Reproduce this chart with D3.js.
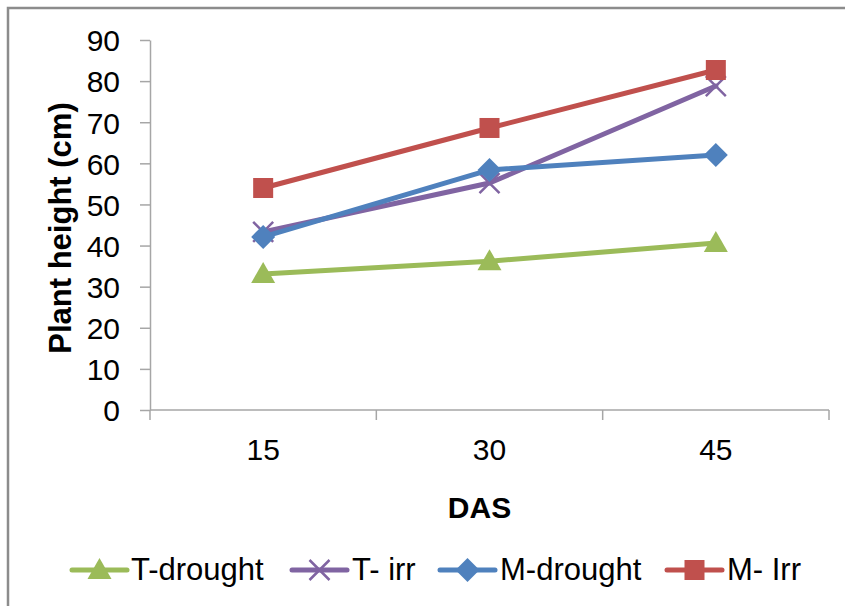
<!DOCTYPE html>
<html>
<head>
<meta charset="utf-8">
<script src="https://cdn.jsdelivr.net/npm/d3@7"></script>
<style>
  html, body { margin: 0; padding: 0; background: #fff; }
  svg { display: block; }
  text { font-family: "Liberation Sans", Arial, sans-serif; fill: #000; }
</style>
</head>
<body>
<svg id="chart" width="845" height="606"></svg>
<script>
// Plant height (cm) by days after sowing
const categories = ["15", "30", "45"];
const yTicks = [0, 10, 20, 30, 40, 50, 60, 70, 80, 90];
const tDrought = [33.1, 36.2, 40.6];
const tIrr = [43.3, 55.2, 78.8];
const mDrought = [42.1, 58.4, 62.0];
const mIrr = [54.0, 68.6, 82.7];
const seriesNames = ["T-drought", "T- irr", "M-drought", "M- Irr"];

const series = [
  { name: seriesNames[0], values: tDrought, color: "#9BBB59", marker: "triangle" },
  { name: seriesNames[1], values: tIrr, color: "#8064A2", marker: "cross" },
  { name: seriesNames[2], values: mDrought, color: "#4F81BD", marker: "diamond" },
  { name: seriesNames[3], values: mIrr, color: "#C0504D", marker: "square" }
];

const svg = d3.select("#chart");

// outer chart frame
svg.append("rect")
  .attr("x", 8).attr("y", 8)
  .attr("width", 845).attr("height", 606)
  .attr("fill", "none")
  .attr("stroke", "#8c8c8c")
  .attr("stroke-width", 2.5);

const plot = { left: 150, right: 829, top: 40, bottom: 410 };

const x = d3.scaleBand().domain(categories).range([plot.left, plot.right]).padding(0);
const y = d3.scaleLinear().domain([0, 90]).range([plot.bottom, plot.top]);
const cx = c => x(c) + x.bandwidth() / 2;

const axisColor = "#a6a6a6";

// y axis
const yAxis = svg.append("g")
  .attr("transform", `translate(${plot.left},0)`)
  .call(d3.axisLeft(y).tickValues(yTicks).tickSize(10).tickPadding(20).tickSizeOuter(0));
yAxis.select(".domain").attr("stroke", axisColor).attr("stroke-width", 1.5);
yAxis.selectAll(".tick line").attr("stroke", axisColor).attr("stroke-width", 1.5);
yAxis.selectAll(".tick text")
  .attr("font-size", 30)
  .attr("font-family", "Liberation Sans, Arial, sans-serif")
  .attr("fill", "#000")
  .attr("dy", "0.36em");

// x axis: labels centred in each category, ticks on category boundaries
const xAxis = svg.append("g")
  .attr("transform", `translate(0,${plot.bottom})`);
xAxis.append("line")
  .attr("x1", plot.left).attr("x2", plot.right)
  .attr("y1", 0).attr("y2", 0)
  .attr("stroke", axisColor).attr("stroke-width", 1.5);
const boundaries = categories.map(c => x(c)).concat([x.range()[1]]);
xAxis.selectAll("line.bound")
  .data(boundaries)
  .join("line")
  .attr("class", "bound")
  .attr("x1", d => d).attr("x2", d => d)
  .attr("y1", 0).attr("y2", 10)
  .attr("stroke", axisColor).attr("stroke-width", 1.5);
xAxis.selectAll("text.cat")
  .data(categories)
  .join("text")
  .attr("class", "cat")
  .attr("x", d => cx(d))
  .attr("y", 50)
  .attr("text-anchor", "middle")
  .attr("font-size", 30)
  .text(d => d);

// axis titles
svg.append("text")
  .attr("x", (plot.left + plot.right) / 2 - 10)
  .attr("y", 518)
  .attr("text-anchor", "middle")
  .attr("font-size", 30)
  .attr("font-weight", "bold")
  .text("DAS");

svg.append("text")
  .attr("transform", `translate(71,${(plot.top + plot.bottom) / 2 + 3}) rotate(-90)`)
  .attr("text-anchor", "middle")
  .attr("font-size", 31)
  .attr("font-weight", "bold")
  .text("Plant height (cm)");

// marker shapes
function drawMarker(g, type, color, px, py) {
  if (type === "triangle") {
    g.append("path")
      .attr("d", `M${px},${py - 12}L${px + 12},${py + 9}L${px - 12},${py + 9}Z`)
      .attr("fill", color);
  } else if (type === "square") {
    g.append("rect")
      .attr("x", px - 10).attr("y", py - 10)
      .attr("width", 20).attr("height", 20)
      .attr("fill", color);
  } else if (type === "diamond") {
    g.append("path")
      .attr("d", `M${px},${py - 12}L${px + 12},${py}L${px},${py + 12}L${px - 12},${py}Z`)
      .attr("fill", color);
  } else if (type === "cross") {
    g.append("path")
      .attr("d", `M${px - 10},${py - 10}L${px + 10},${py + 10}M${px + 10},${py - 10}L${px - 10},${py + 10}`)
      .attr("stroke", color)
      .attr("stroke-width", 2.5)
      .attr("fill", "none");
  }
}

const line = d3.line()
  .x((d, i) => cx(categories[i]))
  .y(d => y(d));

series.forEach(s => {
  const g = svg.append("g");
  g.append("path")
    .attr("d", line(s.values))
    .attr("fill", "none")
    .attr("stroke", s.color)
    .attr("stroke-width", 5)
    .attr("stroke-linejoin", "round")
    .attr("stroke-linecap", "round");
  s.values.forEach((v, i) => drawMarker(g, s.marker, s.color, cx(categories[i]), y(v)));
});

// legend
const legendItems = [
  { lineStart: 72, textX: 131 },
  { lineStart: 292, textX: 352 },
  { lineStart: 440, textX: 500 },
  { lineStart: 667, textX: 727 }
];
const legendY = 570;
series.forEach((s, i) => {
  const li = legendItems[i];
  const g = svg.append("g");
  g.append("line")
    .attr("x1", li.lineStart).attr("x2", li.lineStart + 55)
    .attr("y1", legendY).attr("y2", legendY)
    .attr("stroke", s.color)
    .attr("stroke-width", 5)
    .attr("stroke-linecap", "round");
  drawMarker(g, s.marker, s.color, li.lineStart + 27.5, legendY);
  g.append("text")
    .attr("x", li.textX)
    .attr("y", legendY + 10)
    .attr("font-size", 31)
    .text(s.name);
});
</script>
</body>
</html>
